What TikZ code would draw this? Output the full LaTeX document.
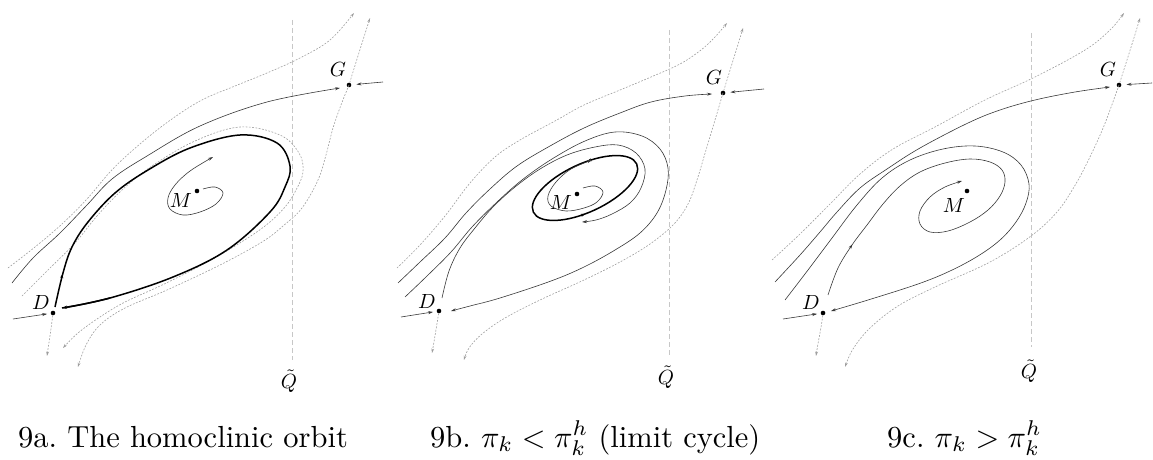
\documentclass[tikz,border=0pt]{standalone}
\usepackage{graphicx}
\usetikzlibrary{arrows.meta,decorations.markings,calc}
\begin{document}
\begin{tikzpicture}[x=1pt,y=-1pt,
  traj/.style={draw=black!78, line width=0.6pt},
  homo/.style={draw=black, line width=1.5pt},
  manif/.style={draw=black!38, line width=0.6pt, dash pattern=on 1.8pt off 1.5pt},
  qline/.style={draw=black!22, line width=0.8pt, dash pattern=on 5pt off 3pt},
  tip/.style={-{Stealth[length=5pt,width=3pt]}},
  gtip/.style={-{Stealth[length=4.5pt,width=2.8pt]}},
  eqpt/.style={circle, fill=black, inner sep=0pt, minimum size=4.6pt},
  lab/.style={inner sep=0pt},
  midarrow/.style={postaction={decorate,decoration={markings,mark=at position #1 with {\arrow{Stealth[length=4.5pt,width=3pt]}}}}},
  midback/.style={postaction={decorate,decoration={markings,mark=at position #1 with {\arrowreversed{Stealth[length=4.5pt,width=3pt]}}}}}
]
\useasboundingbox (0,0) rectangle (1153,460);

% ================= Panel 1 =================
\node[eqpt] (D1) at (53,313) {};
\node[eqpt] (G1) at (349,85) {};
\node[eqpt] (M1) at (197,191) {};
\node[lab] (LG1) at (338,69) {\scalebox{2.05}{$G$}};
\node[lab] (LD1) at (41,302) {\scalebox{2.05}{$D$}};
\node[lab] (LM1) at (181,200) {\scalebox{2.05}{$M$}};
\node[lab] (LQ1) at (289,381) {\scalebox{2.05}{$\tilde{Q}$}};
\coordinate (Q1top) at (292,20);
\coordinate (Q1bot) at (292,360);
\draw[qline] (Q1top) -- (Q1bot);

\draw[manif,gtip] plot[smooth,tension=0.6] coordinates {(8,268) (35,247) (62,224) (87,199) (110,172) (133,150) (165,124) (200,101) (235,86) (267,73) (300,58) (330,40) (354,13)};
\draw[manif,gtip] (G1) .. controls (356,62) and (363,40) .. (370,18);
\draw[manif,gtip] plot[smooth,tension=0.6] coordinates {(349,85) (341,105) (333,128) (326,155) (318,180) (302,208) (283,226) (262,242) (220,265) (167,290) (125,308) (100,325) (86,345) (78,367)};
\draw[manif,gtip] (D1) .. controls (51,330) and (49,342) .. (47,356);
\draw[manif,gtip] plot[smooth,tension=0.6] coordinates {(22,296) (48,270) (75,243) (97,216) (122,190) (152,166) (195,141) (240,127) (280,135) (299,153) (303,172) (296,190) (285,207) (265,226) (235,246) (200,266) (160,286) (125,302) (100,317) (78,333) (63,348)};

\draw[traj,tip] plot[smooth,tension=0.6] coordinates {(12,283) (33,258) (60,233) (87,205) (112,179) (147,156) (200,126) (267,102) (340,88)};
\draw[traj,tip,shorten >=5pt] (383,82) -- (G1);
\draw[traj,tip,shorten >=3.5pt] (13,319) -- (D1);

\draw[homo,midarrow=0.055] plot[smooth,tension=0.6] coordinates {(55,307) (63,273) (72,247) (88,222) (115,193) (148,170) (190,148) (240,135) (277,143) (290,166) (285,187) (270,212) (227,250) (173,277) (110,298) (62,308)};
\draw[homo,tip] (110,298) .. controls (90,303) and (75,306) .. (62,308);

\draw[traj,tip] plot[smooth,tension=0.6] coordinates {(203,189) (215,187) (223,193) (216,204) (200,212) (183,215) (170,209) (168,198) (175,185) (190,171) (213,157)};

% ================= Panel 2 =================
\node[eqpt] (D2) at (439,311) {};
\node[eqpt] (G2) at (723,93) {};
\node[eqpt] (M2) at (577,194) {};
\node[lab] (LG2) at (714,77) {\scalebox{2.05}{$G$}};
\node[lab] (LD2) at (427,301) {\scalebox{2.05}{$D$}};
\node[lab] (LM2) at (561,202) {\scalebox{2.05}{$M$}};
\node[lab] (LQ2) at (666,377) {\scalebox{2.05}{$\tilde{Q}$}};
\coordinate (Q2top) at (669,30);
\coordinate (Q2bot) at (669,355);
\draw[qline] (Q2top) -- (Q2bot);

\draw[manif,gtip] plot[smooth,tension=0.6] coordinates {(397,268) (420,245) (445,216) (470,183) (495,157) (520,140) (555,121) (584,105) (620,90) (651,77) (680,64) (701,50) (715,37) (727,23)};
\draw[manif,gtip] (G2) .. controls (730,70) and (737,48) .. (743,28);
\draw[manif,gtip] plot[smooth,tension=0.6] coordinates {(723,93) (715,120) (706,150) (697,180) (688,204) (674,224) (650,244) (620,262) (584,280) (540,300) (505,318) (482,334) (469,348) (464,360)};
\draw[manif,gtip] (D2) .. controls (436,330) and (434,342) .. (432,353);

\draw[traj,tip] plot[smooth,tension=0.6] coordinates {(398,283) (420,262) (445,238) (466,213) (490,189) (517,166) (550,146) (584,128) (620,113) (651,102) (685,96) (712,94)};
\draw[traj,tip] plot[smooth,tension=0.6] coordinates {(405,297) (427,276) (451,252) (472,227) (496,203) (522,180) (552,159) (585,141) (615,132) (642,136) (660,149) (668,168) (666,190) (657,213) (640,233) (615,250) (584,267) (551,281) (500,298) (470,306) (451,311)};
\draw[traj,tip] plot[smooth,tension=0.6] coordinates {(442,298) (449,271) (460,248) (475,228) (493,207) (515,187) (540,169) (567,155) (595,147) (618,145) (636,153) (645,169) (641,188) (630,203) (612,214) (596,220) (582,222)};
\draw[traj,tip,shorten >=5pt] (764,89) -- (G2);
\draw[traj,tip,shorten >=3.5pt] (401,317) -- (D2);

\begin{scope}[shift={(585,188)},rotate=25]
\draw[homo,midback=0.29,midback=0.80] (0,0) ellipse [x radius=57, y radius=24];
\end{scope}
\draw[traj,tip] plot[smooth,tension=0.6] coordinates {(583,188) (595,186) (603,192) (597,202) (584,208) (566,211) (551,206) (548,196) (556,182) (571,169) (592,160)};

% ================= Panel 3 =================
\node[eqpt] (D3) at (823,313) {};
\node[eqpt] (G3) at (1119,85) {};
\node[eqpt] (M3) at (967,191) {};
\node[lab] (LG3) at (1108,69) {\scalebox{2.05}{$G$}};
\node[lab] (LD3) at (811,302) {\scalebox{2.05}{$D$}};
\node[lab] (LM3) at (954,205) {\scalebox{2.05}{$M$}};
\node[lab] (LQ3) at (1029,371) {\scalebox{2.05}{$\tilde{Q}$}};
\coordinate (Q3top) at (1031,33);
\coordinate (Q3bot) at (1031,347);
\draw[qline] (Q3top) -- (Q3bot);

\draw[manif,gtip] plot[smooth,tension=0.6] coordinates {(772,260) (800,234) (830,204) (860,174) (893,149) (935,127) (985,100) (1035,77) (1085,50) (1110,30) (1124,13)};
\draw[manif,gtip] (G3) .. controls (1127,60) and (1134,38) .. (1140,18);
\draw[manif,gtip] plot[smooth,tension=0.6] coordinates {(1119,85) (1110,110) (1101,133) (1087,163) (1074,187) (1057,212) (1031,236) (990,262) (935,287) (898,306) (870,328) (853,349) (845,367)};
\draw[manif,gtip] (D3) .. controls (821,330) and (818,342) .. (816,356);

\draw[traj,tip] plot[smooth,tension=0.6] coordinates {(775,282) (800,255) (820,232) (837,212) (860,188) (887,169) (920,148) (968,123) (1000,110) (1035,100) (1075,92) (1110,87)};
\draw[traj,tip] plot[smooth,tension=0.6] coordinates {(785,300) (808,270) (832,238) (857,205) (882,178) (910,160) (943,149) (975,146) (1003,152) (1021,165) (1029,184) (1026,203) (1016,222) (1000,240) (978,256) (950,271) (918,284) (868,300) (831,311)};
\draw[traj,tip,midarrow=0.13] plot[smooth,tension=0.6] coordinates {(828,295) (838,268) (852,245) (867,225) (883,204) (900,186) (920,172) (945,163) (970,159) (990,162) (1002,170) (1005,182) (1000,196) (988,210) (970,222) (948,231) (930,232) (920,224) (920,211) (930,197) (945,187) (962,181)};
\draw[traj,tip,shorten >=5pt] (1152,83) -- (G3);
\draw[traj,tip,shorten >=3.5pt] (783,319) -- (D3);

% ================= Captions =================
\node[anchor=base west,inner sep=0pt] (C1) at (18,447) {\scalebox{3.05}{9a.\ The homoclinic orbit}};
\node[anchor=base west,inner sep=0pt] (C2) at (430,447) {\scalebox{3.05}{9b.\ $\pi_k<\pi_k^h$ (limit cycle)}};
\node[anchor=base west,inner sep=0pt] (C3) at (887,447) {\scalebox{3.05}{9c.\ $\pi_k>\pi_k^h$}};
\end{tikzpicture}
\end{document}
